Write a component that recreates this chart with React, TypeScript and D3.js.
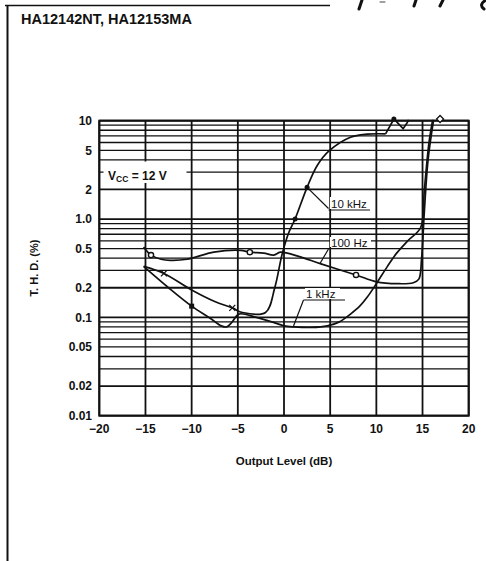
import React from "react";
import * as d3 from "d3";

const title = "HA12142NT, HA12153MA";
const xTicks = [-20, -15, -10, -5, 0, 5, 10, 15, 20];
const yTicks = [10, 5, 2, 1, 0.5, 0.2, 0.1, 0.05, 0.02, 0.01];
const yTickLabels = ["10", "5", "2", "1.0", "0.5", "0.2", "0.1", "0.05", "0.02", "0.01"];
const xLabel = "Output Level (dB)";
const yLabel = "T. H. D. (%)";

// series: [dB, THD %]
const hz100: [number, number][] = [
  [-15.2, 0.52], [-14.4, 0.43], [-13.3, 0.39], [-12.3, 0.38], [-10.5, 0.39], [-7.6, 0.46],
  [-4.7, 0.48], [-3.7, 0.46], [-2.2, 0.45], [-1.1, 0.43], [-0.4, 0.46], [1.5, 0.42],
  [4, 0.35], [7.8, 0.27], [10, 0.23], [12.3, 0.22], [14, 0.225], [14.6, 0.245],
  [14.9, 0.4], [15.2, 1.2], [15.6, 4], [16.2, 10.2],
];
const hz100Markers: [number, number][] = [[-14.4, 0.43], [-3.7, 0.46], [7.8, 0.27]];

const khz1: [number, number][] = [
  [-15.2, 0.33], [-12.5, 0.2], [-10, 0.13], [-8, 0.098], [-6.8, 0.082], [-6.2, 0.08],
  [-5.6, 0.09], [-4.9, 0.108], [-3, 0.1], [-1, 0.088], [0, 0.082], [1.1, 0.08],
  [3, 0.079], [4.7, 0.082], [6, 0.09], [7.2, 0.108], [8.2, 0.13], [9, 0.16], [10, 0.22],
  [11.2, 0.33], [12.2, 0.45], [13.4, 0.6], [14.8, 0.82], [15.2, 2], [15.7, 6], [16.1, 10.2],
];
const khz1Markers: [number, number][] = [[-10, 0.13]];

const khz10: [number, number][] = [
  [-15.2, 0.33], [-13, 0.28], [-10, 0.19], [-7.5, 0.145], [-5.6, 0.125], [-4.5, 0.112],
  [-2, 0.112], [-1, 0.2], [-0.2, 0.44], [0.5, 0.72], [1.2, 1.0], [2.5, 2.1], [3.6, 3.5],
  [4.9, 4.95], [7.2, 6.8], [9, 7.3], [11, 7.35],
];
const khz10Tail: [number, number][] = [[11, 7.35], [11.9, 10.4], [12.9, 8.3], [13.3, 9.4], [13.5, 10.2]];
const khz10Cross: [number, number][] = [[-13, 0.28], [-5.6, 0.125]];
const khz10Dots: [number, number][] = [[1.2, 1.0], [2.5, 2.1], [11.9, 10.4]];
const topDiamond: [number, number] = [16.9, 10.4];

const W = 486, H = 561;
const X0 = 99.3, X1 = 468.7, Y0 = 415.7, Y1 = 120.7;

export default function App() {
  const x = d3.scaleLinear().domain([-20, 20]).range([X0, X1]);
  const y = d3.scaleLog().domain([0.01, 10]).range([Y0, Y1]);
  const minor: number[] = [];
  for (const dec of [0.01, 0.1, 1]) for (let k = 1; k <= 10; k++) minor.push(dec * k);
  const uniq = Array.from(new Set(minor.map((v) => +v.toPrecision(3))));
  const line = d3
    .line<[number, number]>()
    .x((d) => x(d[0]))
    .y((d) => y(d[1]))
    .curve(d3.curveCatmullRom.alpha(0.5));
  const lin = d3
    .line<[number, number]>()
    .x((d) => x(d[0]))
    .y((d) => y(d[1]));
  const font = "Liberation Sans, Arial, Helvetica, sans-serif";
  const ink = "#111";
  return (
    <svg width={W} height={H} style={{ position: "absolute", left: 0, top: 0, background: "#fff" }} fontFamily={font}>
      {/* frame */}
      <line x1={5} y1={5.5} x2={330} y2={5.5} stroke={ink} strokeWidth={1.6} />
      <line x1={7.5} y1={5} x2={7.5} y2={561} stroke={ink} strokeWidth={2} />
      {/* handwriting marks */}
      <g stroke={ink} strokeLinecap="round" fill="none">
        <path d="M362,0 L359,9" strokeWidth={3} />
        <path d="M380,2 L385,2" strokeWidth={0.8} />
        <path d="M416,0 L414,6" strokeWidth={3} />
        <path d="M443,0 L440,6" strokeWidth={3} />
        <path d="M486,0 C481,3 480,6 484,9" strokeWidth={3} />
      </g>
      <text x={21} y={24} fontSize={14.5} fontWeight="bold" fill={ink}>{title}</text>

      {/* grid */}
      <g stroke={ink}>
        {uniq.map((v) => (
          <line key={"h" + v} x1={X0} x2={X1} y1={y(v)} y2={y(v)}
            strokeWidth={[0.01, 0.1, 1, 10, 2, 0.2, 0.02].includes(v) ? 1.8 : 1.3} />
        ))}
        {xTicks.map((t) => (
          <line key={"v" + t} x1={x(t)} x2={x(t)} y1={Y1} y2={Y0} strokeWidth={1.8} />
        ))}
        <rect x={X0} y={Y1} width={X1 - X0} height={Y0 - Y1} fill="none" strokeWidth={2} />
      </g>

      {/* Vcc box */}
      <rect x={103.5} y={161.5} width={83} height={21.5} fill="#fff" />
      <text x={108} y={180} fontSize={12} fontWeight="bold" fill={ink}>
        V<tspan fontSize={8.5} dy={2}>CC</tspan><tspan dy={-2}> = 12 V</tspan>
      </text>

      {/* label backgrounds */}
      <g fill="#fff">
        <rect x={330} y={197} width={41} height={12} />
        <rect x={330} y={237} width={41} height={10} />
        <rect x={305} y={288} width={35} height={11} />
      </g>

      {/* curves */}
      <g fill="none" stroke={ink} strokeWidth={1.7}>
        <path d={line(hz100) || ""} />
        <path d={line(khz1) || ""} />
        <path d={line(khz10) || ""} />
        <path d={lin(khz10Tail) || ""} />
      </g>
      {/* markers */}
      {hz100Markers.map((d, i) => (
        <circle key={"c" + i} cx={x(d[0])} cy={y(d[1])} r={2.6} fill="#fff" stroke={ink} strokeWidth={1.4} />
      ))}
      {khz1Markers.map((d, i) => (
        <rect key={"s" + i} x={x(d[0]) - 2.5} y={y(d[1]) - 2.5} width={5} height={5} fill={ink} />
      ))}
      {khz10Cross.map((d, i) => (
        <path key={"x" + i} d={`M${x(d[0]) - 3},${y(d[1]) - 3}L${x(d[0]) + 3},${y(d[1]) + 3}M${x(d[0]) - 3},${y(d[1]) + 3}L${x(d[0]) + 3},${y(d[1]) - 3}`} stroke={ink} strokeWidth={1.3} />
      ))}
      {khz10Dots.map((d, i) => (
        <circle key={"d" + i} cx={x(d[0])} cy={y(d[1])} r={2.5} fill={ink} />
      ))}
      <path d={`M${x(topDiamond[0])},${y(topDiamond[1]) - 3.5}l3.5,3.5l-3.5,3.5l-3.5,-3.5z`} fill="#fff" stroke={ink} strokeWidth={1.3} />

      {/* curve labels */}
      <g stroke={ink} strokeWidth={1.2}>
        <line x1={x(2.5)} y1={y(2.1)} x2={328.5} y2={208.5} />
        <line x1={328.5} y1={210} x2={370} y2={210} />
        <line x1={320} y1={263.5} x2={328.5} y2={249} />
        <line x1={293.5} y1={326} x2={303.5} y2={300} />
        <line x1={303.5} y1={300} x2={345} y2={300} />
      </g>
      <g fontSize={11.5} fill={ink}>
        <text x={331} y={208}>10 kHz</text>
        <text x={331} y={247}>100 Hz</text>
        <text x={306} y={298}>1 kHz</text>
      </g>

      {/* tick labels */}
      <g fontSize={12} fontWeight="bold" fill={ink}>
        {yTicks.map((t, i) => (
          <text key={"yt" + t} x={92} y={y(t)} dy="0.36em" textAnchor="end">{yTickLabels[i]}</text>
        ))}
        {xTicks.map((t) => (
          <text key={"xt" + t} x={x(t)} y={433} textAnchor="middle">{t < 0 ? "\u2212" + Math.abs(t) : String(t)}</text>
        ))}
      </g>
      <text x={284} y={465} fontSize={11.5} fontWeight="bold" textAnchor="middle" fill={ink}>{xLabel}</text>
      <text transform="translate(38,268) rotate(-90)" fontSize={11} fontWeight="bold" textAnchor="middle" fill={ink}>{yLabel}</text>
    </svg>
  );
}
